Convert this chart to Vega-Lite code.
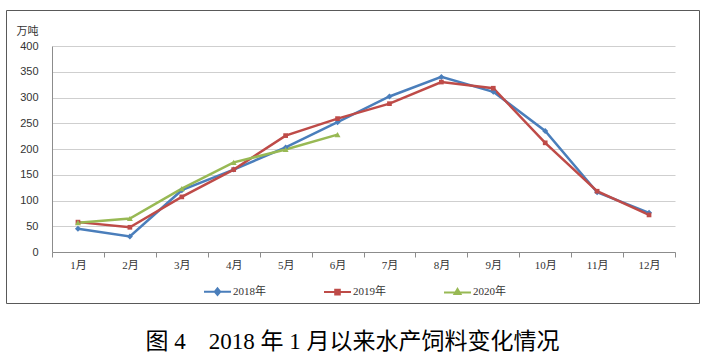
{
  "$schema": "https://vega.github.io/schema/vega-lite/v6.json",
  "width": 693,
  "height": 293,
  "autosize": "none",
  "padding": {"left": 6, "top": 10, "right": 7, "bottom": 53},
  "background": "white",
  "config": {
    "view": {"stroke": "#595959", "strokeWidth": 1},
    "axis": {"labelColor": "#333333", "labelFontSize": 11, "domainColor": "#8c8c8c"}
  },
  "title": {
    "text": "图 4　2018 年 1 月以来水产饲料变化情况",
    "orient": "bottom",
    "anchor": "middle",
    "font": "Liberation Serif, Noto Sans CJK SC",
    "fontSize": 23,
    "fontWeight": "normal",
    "color": "#000000",
    "offset": 28
  },
  "data": {
    "values": [
      {"month": "1月", "year": "2018年", "value": 45},
      {"month": "2月", "year": "2018年", "value": 30},
      {"month": "3月", "year": "2018年", "value": 120},
      {"month": "4月", "year": "2018年", "value": 160},
      {"month": "5月", "year": "2018年", "value": 203},
      {"month": "6月", "year": "2018年", "value": 252},
      {"month": "7月", "year": "2018年", "value": 302},
      {"month": "8月", "year": "2018年", "value": 340},
      {"month": "9月", "year": "2018年", "value": 311},
      {"month": "10月", "year": "2018年", "value": 235},
      {"month": "11月", "year": "2018年", "value": 116},
      {"month": "12月", "year": "2018年", "value": 76},
      {"month": "1月", "year": "2019年", "value": 58},
      {"month": "2月", "year": "2019年", "value": 48},
      {"month": "3月", "year": "2019年", "value": 107},
      {"month": "4月", "year": "2019年", "value": 160},
      {"month": "5月", "year": "2019年", "value": 226},
      {"month": "6月", "year": "2019年", "value": 259},
      {"month": "7月", "year": "2019年", "value": 288},
      {"month": "8月", "year": "2019年", "value": 330},
      {"month": "9月", "year": "2019年", "value": 318},
      {"month": "10月", "year": "2019年", "value": 212},
      {"month": "11月", "year": "2019年", "value": 118},
      {"month": "12月", "year": "2019年", "value": 72},
      {"month": "1月", "year": "2020年", "value": 57},
      {"month": "2月", "year": "2020年", "value": 65},
      {"month": "3月", "year": "2020年", "value": 123},
      {"month": "4月", "year": "2020年", "value": 174},
      {"month": "5月", "year": "2020年", "value": 199},
      {"month": "6月", "year": "2020年", "value": 228}
    ]
  },
  "encoding": {
    "x": {
      "field": "month",
      "type": "ordinal",
      "sort": ["1月","2月","3月","4月","5月","6月","7月","8月","9月","10月","11月","12月"],
      "scale": {"type": "band", "range": [46, 669], "paddingInner": 0, "paddingOuter": 0},
      "axis": {
        "title": null,
        "offset": -51,
        "labelAngle": 0,
        "tickBand": "extent",
        "tickSize": 5,
        "tickColor": "#8c8c8c",
        "labelPadding": 2,
        "labelFont": "Liberation Serif, Noto Sans CJK SC",
        "grid": false
      }
    },
    "y": {
      "field": "value",
      "type": "quantitative",
      "scale": {"domain": [0, 400], "range": [242, 36], "nice": false},
      "axis": {
        "title": "万吨",
        "titleAngle": 0,
        "titleAlign": "left",
        "titleBaseline": "middle",
        "titleX": -36,
        "titleY": 21,
        "titleFont": "Noto Sans CJK SC",
        "titleFontSize": 11,
        "titleFontWeight": "normal",
        "titleColor": "#333333",
        "offset": -46,
        "values": [0, 50, 100, 150, 200, 250, 300, 350, 400],
        "ticks": false,
        "labelPadding": 14,
        "labelFont": "Liberation Sans",
        "grid": true,
        "gridColor": "#cfcfcf",
        "gridWidth": 1.2
      }
    },
    "color": {
      "field": "year",
      "type": "nominal",
      "scale": {"domain": ["2018年", "2019年", "2020年"], "range": ["#4A7EBB", "#BE4B48", "#98B954"]},
      "legend": {
        "title": null,
        "orient": "none",
        "direction": "horizontal",
        "legendX": 197,
        "legendY": 267,
        "symbolSize": 729,
        "symbolStrokeWidth": 2,
        "labelFont": "Liberation Serif, Noto Sans CJK SC",
        "labelFontSize": 11,
        "labelColor": "#333333",
        "labelOffset": 1,
        "columnPadding": 54,
        "encode": {
          "symbols": {
            "update": {
              "shape": {"signal": "datum.value == '2018年' ? 'M-1,0H1M0,-0.24L0.2,0L0,0.24L-0.2,0Z' : datum.value == '2019年' ? 'M-1,0H1M-0.17,-0.17H0.17V0.17H-0.17Z' : 'M-1,0H1M0,-0.26L0.22,0.12H-0.22Z'"},
              "fill": {"signal": "scale('color', datum.value)"},
              "stroke": {"signal": "scale('color', datum.value)"},
              "strokeWidth": {"value": 2},
              "opacity": {"value": 1}
            }
          }
        }
      }
    }
  },
  "layer": [
    {
      "mark": {"type": "line", "strokeWidth": 2.5}
    },
    {
      "transform": [{"filter": "datum.year == '2018年'"}],
      "mark": {"type": "point", "shape": "diamond", "filled": true, "opacity": 1, "size": 36}
    },
    {
      "transform": [{"filter": "datum.year == '2019年'"}],
      "mark": {"type": "point", "shape": "square", "filled": true, "opacity": 1, "size": 22}
    },
    {
      "transform": [{"filter": "datum.year == '2020年'"}],
      "mark": {"type": "point", "shape": "triangle-up", "filled": true, "opacity": 1, "size": 36}
    }
  ]
}
